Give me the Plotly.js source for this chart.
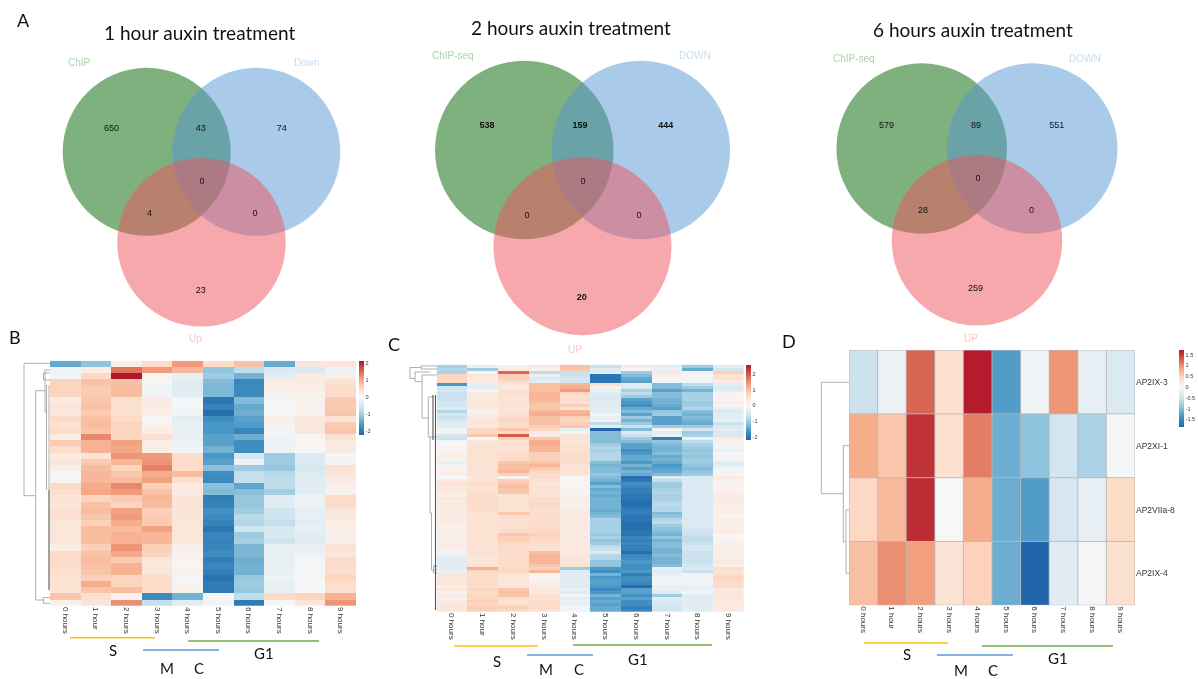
<!DOCTYPE html>
<html>
<head>
<meta charset="utf-8">
<script src="https://cdn.plot.ly/plotly-3.0.1.min.js"></script>
<style>html,body{margin:0;padding:0;background:#fff}#chart{width:1198px;height:679px;filter:blur(0.45px)}</style>
</head>
<body>
<div id="chart"></div>
<script>
// ---------- Venn data ----------
const vennTitles = ["1 hour auxin treatment", "2 hours auxin treatment", "6 hours auxin treatment"];
const vennSetNames = [["ChIP", "Down", "Up"], ["ChIP-seq", "DOWN", "UP"], ["ChIP-seq", "DOWN", "UP"]];
const vennCounts1 = ["650", "43", "74", "0", "4", "0", "23"];
const vennCounts2 = ["538", "159", "444", "0", "0", "0", "20"];
const vennCounts3 = ["579", "89", "551", "0", "28", "0", "259"];

// ---------- Heatmap data ----------
const hourLabels = ["0 hours", "1 hour", "2 hours", "3 hours", "4 hours", "5 hours", "6 hours", "7 hours", "8 hours", "9 hours"];
const geneLabels = ["AP2IX-3", "AP2XI-1", "AP2VIIa-8", "AP2IX-4"];
const heatB = [
[-1.4,-1.1,.2,.5,1.15,.5,.8,-1.4,.3,.35],
[-.15,.2,1.45,1.15,.9,-1.1,-.7,-.4,-.4,-.15],
[-.1,.55,2.15,.1,-.25,-1,-1.3,-.3,.2,.2],
[.6,.8,.8,-.05,-.3,-1.2,-1.8,.2,.25,.4],
[.6,.7,.85,-.1,-.3,-1.25,-1.75,.15,.2,.5],
[.6,.7,.85,-.1,-.3,-1.25,-1.75,.1,.15,.5],
[.25,.75,.45,.25,-.05,-2,-1.2,-.05,.1,.7],
[.35,.8,.45,.2,-.05,-1.85,-1.4,-.05,.15,.7],
[.3,.7,.45,.2,-.1,-2.1,-1.35,0,.1,.75],
[.55,.8,.5,.05,-.3,-1.7,-1.5,.15,.3,.4],
[.4,.85,.6,.1,-.2,-1.6,-1.55,.1,.3,.7],
[.5,.75,.6,.2,-.2,-1.6,-1.8,-.05,.3,.75],
[.2,1.3,.6,.45,-.2,-1.5,-1.35,-.15,.05,.4],
[.7,.95,1.1,.2,-.15,-1.5,-1.7,-.15,.05,.25],
[.5,.95,1.05,.2,-.1,-1.3,-1.7,-.15,.05,.25],
[.25,.4,1.2,1.15,.5,-1.6,-.45,-1,-.4,.05],
[.3,.7,.9,1.2,.5,-1.5,-.15,-1,-.4,-.1],
[.2,.85,.6,1.35,.5,-1.15,-1,-1.05,-.45,.4],
[-.05,.9,.75,1,.85,-1.7,-.65,-.75,-.35,.35],
[-.05,.9,.85,1.1,.45,-1.75,-.65,-.7,-.3,.25],
[.55,1,1.3,.65,.25,-1.15,-1.45,-.7,-.3,.15],
[.45,1.05,1.15,.8,.25,-1.2,-1.15,-.95,-.3,.1],
[.35,.6,.7,.9,.35,-1.9,-1.05,-.3,-.15,.5],
[.35,.8,.6,.85,.35,-1.85,-1.05,-.3,-.15,.5],
[.45,.85,1.1,.65,.35,-1.65,-.95,-.55,-.25,.3],
[.4,.75,1.15,.7,.35,-1.75,-.75,-.55,-.25,.3],
[.3,.65,1,.7,.35,-1.85,-.8,-.65,-.3,.2],
[.35,.85,.85,1.1,.3,-2,-.55,-.45,-.25,.2],
[.3,.85,.95,.9,.35,-1.8,-1,-.4,-.3,.15],
[.35,.85,.95,.9,.3,-1.85,-.9,-.55,-.3,.15],
[.2,.65,1.2,.65,.15,-1.8,-1.25,-.2,-.2,.4],
[.5,.8,1.05,.6,.1,-1.7,-1.25,-.25,-.15,.3],
[.5,.85,.7,.35,.1,-1.9,-1.35,-.2,-.05,.5],
[.5,.8,.95,.3,.05,-1.8,-1.3,-.2,-.05,.5],
[.45,.75,.95,.3,.1,-1.9,-1.3,-.2,-.05,.45],
[.4,.65,.6,.5,-.05,-2.05,-1.05,-.15,.05,.6],
[.4,1,.6,.5,.1,-1.95,-1,-.2,0,.5],
[.4,.75,.85,.5,.1,-1.95,-1.05,-.25,-.05,.45],
[.75,.45,.1,-1.75,-1.3,-.05,-.7,.55,.6,.95],
[.15,.35,1.25,-.65,-.3,-.1,-1.95,-.05,.35,1.2]
];
const heatC = [
[-.9,-.2,.2,.3,1,-.6,.3,-.3,-1,-.3],
[-.8,-1,.3,.2,.9,-.3,.1,-.2,-1.4,-.5],
[-.9,.1,1.9,-.7,-.6,-.3,-1,.4,-.1,.8],
[.7,.4,.8,-.2,-.6,-2,-1.2,.2,.1,.5],
[.7,.3,.8,-.4,-.5,-2,-1.4,-.1,-.1,.5],
[.7,.3,.6,-.3,-.5,-2,-1.5,-.1,-.1,.3],
[-1.6,-.2,.4,1,1.1,.5,-.3,-1.2,-.7,-.3],
[-.5,-.3,.3,1,1.2,-.1,-.4,-1.2,-1,-.4],
[-.5,.1,.5,1,1.4,-.2,-.9,-1.5,-1.3,-.3],
[-.6,.3,.5,1.1,.7,-.3,-.7,-1.2,-.9,.1],
[-.6,.3,.5,1.1,.5,-.4,-1,-1.2,-.9,.1],
[-.6,.3,.4,1.1,.6,-.4,-1.5,-1.3,-.9,.1],
[-.5,.4,.5,1,.5,-.3,-1.6,-1.3,-1,.2],
[-.5,.4,.5,.9,.8,-.3,-1.7,-1.4,-1,.1],
[-.4,.3,.4,.9,.5,-.3,-1.4,-1.5,-.8,-.2],
[-.8,.1,.5,1.1,1.1,-.3,-1.2,-1.1,-1.2,-.4],
[-.5,.2,.5,1.2,1.2,-.1,-1.5,-1,-1.3,-.3],
[-.6,.3,.6,1,.8,-.2,-1,-1.5,-1.2,-.3],
[-.5,.4,.7,1,.7,-.1,-1.3,-1.5,-1.3,-.2],
[-.3,.4,.6,1,.8,-.7,-1,-1.5,-1.4,-.6],
[-.3,.3,.6,.8,.9,-.3,-.6,-1,-1,-.4],
[-.1,.7,.9,.7,-.2,-2.2,-1.2,.1,-.5,-.3],
[.1,.7,.7,.3,-.1,-1.2,-.4,-.3,-1,-.4],
[-.5,.9,2,.2,.5,-1.2,-.6,-.2,-.9,-.4],
[-.6,0,.8,.9,.5,-1.2,-1,-1.9,-.2,.3],
[-.1,.4,.5,1.2,.4,-1.2,-1.2,-1.1,-.7,.2],
[0,.5,.5,1.2,.5,-1,-1.5,-1.2,-.9,-.1],
[.1,.5,.5,1.1,.5,-.8,-1.5,-1.3,-1,-.1],
[.1,.5,.5,1.1,.5,-.9,-1.7,-1.3,-1.1,-.2],
[.2,.5,.6,.8,.6,-.8,-1.6,-1.2,-1,0],
[.2,.5,.6,.8,.6,-.8,-1.4,-1.4,-1.1,.1],
[.1,.5,.6,.8,.6,-.8,-1.4,-1.3,-1,-.1],
[-.2,.5,.9,.9,.6,-1.2,-1.6,-1.4,-1,-.3],
[-.1,.5,1,1.1,.5,-1.3,-1.3,-1.6,-1.1,-.3],
[.1,.5,1,.9,.5,-1.2,-1.5,-1.5,-1.2,-.1],
[.2,.5,1.1,.7,.5,-1.2,-1.3,-1.4,-1.1,-.1],
[.2,.5,.8,.6,.4,-1.1,-1.4,-1.2,-1,.1],
[0,.4,.1,.6,.05,-1.2,-2.1,-.4,-.4,.3],
[.3,.5,.8,.5,.05,-1.3,-2,-.7,-.4,.2],
[.5,.6,.9,.4,.05,-1.5,-1.7,-1,-.4,.05],
[.4,.5,1,.5,.1,-1.2,-1.8,-1,-.4,.1],
[.4,.5,.9,.5,.1,-1.4,-1.9,-.9,-.4,.1],
[.3,.5,.9,.5,.1,-1.3,-1.9,-.8,-.4,.2],
[.2,.6,.5,.5,.15,-1.4,-2,-.9,-.4,.3],
[.4,.6,.5,.6,.2,-1.3,-2,-.9,-.4,.3],
[.3,.6,.5,.6,.2,-1.3,-2.1,-.8,-.4,.3],
[.3,.6,.5,.7,.2,-1.3,-2.1,-.7,-.4,.2],
[.3,.6,.5,.6,.2,-1.3,-2,-.8,-.4,.2],
[.3,.6,.5,.6,.3,-1.4,-1.9,-.8,-.4,.2],
[.3,.5,.9,.6,.3,-1.3,-1.9,-1.2,-.4,.2],
[.3,.5,.6,.6,.3,-1.2,-2,-1.1,-.4,.1],
[.3,.5,.5,.6,.3,-.9,-2,-.8,-.4,.2],
[.3,.5,.5,.6,.3,-.9,-2.1,-.7,-.4,.2],
[.2,.5,.5,.6,.3,-.9,-2.1,-1,-.4,.2],
[.2,.5,.6,.7,.3,-.9,-2.1,-1.1,-.5,.2],
[.2,.5,.6,.7,.3,-.9,-2,-1.2,-.5,.3],
[.2,.5,.9,.8,.3,-1,-2,-1.3,-.6,.05],
[.2,.5,.8,.7,.3,-.9,-1.8,-1.1,-.7,.05],
[.2,.5,.8,.7,.3,-1.1,-1.9,-1.3,-.7,.05],
[.2,.5,.7,.6,.3,-1,-1.8,-1.2,-.6,.2],
[.3,.5,.6,.5,.3,-.7,-1.9,-1.2,-.5,.2],
[.2,.5,.6,.5,.3,-.6,-1.9,-1.3,-.5,.2],
[-.1,.5,.6,1,.3,-.4,-2.1,-1.3,-.6,.2],
[-.2,.5,.6,1.1,.4,-.8,-1.8,-1.2,-.6,.2],
[-.3,.4,.6,1.1,.4,-.8,-1.7,-1.3,-.6,.2],
[-.3,.4,.6,1.1,.4,-1.1,-1.6,-1.3,-.6,.3],
[-.3,.5,.6,.9,.5,-1.1,-1.7,-1.2,-.5,.2],
[-.3,1.2,.7,.8,-1,-1.6,-1.7,-.2,-.4,.6],
[-.2,.7,.7,1.1,-.4,-1.7,-1.6,-.3,-.6,.5],
[.4,.6,.4,.1,-.3,-1.3,-1.9,-.2,-.1,.6],
[.4,.6,.4,.05,-.3,-1.6,-1.7,-.1,-.1,.7],
[.4,.6,.4,.05,-.3,-1.5,-1.7,-.1,-.1,.7],
[.4,.6,.4,.2,-.3,-1.5,-1.8,-.1,-.1,.6],
[.2,.6,.4,.3,-.3,-1.6,-2.1,-.2,-.2,.6],
[.4,.7,.9,.4,-.2,-1.8,-1.5,-.2,-.2,.3],
[.1,.6,1,.3,-.3,-1.6,-1.5,-.3,-.1,.4],
[.3,.7,.9,.5,-.1,-1.3,-1.7,-1,-.3,.4],
[-.1,.7,.6,.5,-.3,-1.5,-1.5,-.3,-.3,.4],
[.3,.8,.5,.6,-.2,-1.4,-1.7,-.4,-.3,.3],
[.4,.7,.6,.6,-.2,-1.5,-1.7,-.5,-.3,.3],
[.4,.8,.8,.6,-.1,-1.4,-1.9,-.5,-.3,.3],
[.4,.8,.7,.5,-.1,-1.4,-1.8,-.5,-.3,.3]
];
const heatD = [
[-.5,-.15,1.25,.35,1.7,-1.3,-.07,.95,-.2,-.35],
[.8,.6,1.55,.35,1.1,-1.15,-.95,-.45,-.75,-.03],
[.45,.7,1.6,0,.8,-1.15,-1.3,-.4,-.2,.42],
[.65,1,.9,.3,.5,-1.15,-1.85,-.25,-.05,.35]
];

// ---------- helpers ----------
const W = 1198, H = 679;
const blues = ["#2166AC", "#4393C3", "#92C5DE", "#D1E5F0", "#F7F7F7"];
const reds = ["#F7F7F7", "#FDDBC7", "#F4A582", "#D6604D", "#B2182B"];
function divergingScale(zmin, zmax) {
  const mid = -zmin / (zmax - zmin);
  const s = blues.map((c, i) => [mid * i / 4, c]);
  reds.slice(1).forEach((c, i) => s.push([mid + (1 - mid) * (i + 1) / 4, c]));
  return s;
}
const domX = (a, b) => [a / W, b / W];
const domY = (top, bottom) => [1 - bottom / H, 1 - top / H];
const idx = n => Array.from({length: n}, (_, i) => i);
function polylines(list) {
  const x = [], y = [];
  list.forEach(p => { for (let i = 0; i < p.length; i += 2) { x.push(p[i]); y.push(p[i + 1]); } x.push(null); y.push(null); });
  return {x, y};
}

// ---------- layout geometry ----------
const vennCx = [146.7, 256.3, 201.5, 524.3, 640.8, 582.5, 921.7, 1032.2, 977];
const vennCy = [151.8, 151.8, 242.3, 150, 150, 246.3, 148.5, 148.5, 240.3];
const vennD = [168, 168, 168.5, 178.5, 178.5, 178, 170.5, 170.5, 170.5];
const vennFill = ["rgb(0,100,0)", "rgb(83,149,209)", "rgb(239,81,91)"];
const countX = [111.5, 200.7, 281.7, 202, 149.5, 255, 200.7, 487, 580, 665.7, 583, 527, 639, 581.7, 886.5, 976, 1056.7, 978, 923, 1031.5, 975.5];
const countY = [129, 129, 129, 182, 213.5, 213.5, 291, 126, 126, 126, 182, 216, 216, 298, 125.7, 125.7, 125.7, 179, 211, 211, 289];
const titleX = [199, 570.7, 973], titleY = [32, 27, 29.5];
const setX = [79.5, 307, 195, 452.7, 695, 575.3, 853.5, 1084.5, 970.7];
const setY = [62, 62, 338, 55, 55, 349.3, 58, 58, 338];
const setColors = ["#abd0ab", "#c5dcf0", "#fbc6ca"];
const panelLetters = ["A", "B", "C", "D"], panelX = [23, 15, 394, 789], panelY = [20, 337, 344, 341];
const phaseLabels = ["S", "M", "C", "G1"];
const phaseX = [[113, 167, 199, 264], [497, 546, 579, 638], [907, 961, 993, 1058]];
const phaseY = [[650, 668, 668, 653], [661, 669, 669, 659], [654, 669.5, 669.5, 658]];
const phaseBars = [
  {name: "S", color: "#FFC000", seg: [[70,637.7,155,637.7],[454,646,538,646],[864,643,948,643]]},
  {name: "M C", color: "#5B9BD5", seg: [[143,650,219,650],[527,655,593,655],[937,655,1013,655]]},
  {name: "G1", color: "#70AD47", seg: [[188,641,319,641],[573,645,712,645],[982,646,1113,646]]}
];
const dendroLight = [
  [50,363.3,24,363.3,24,495.7,35.7,495.7],
  [45,390.7,35.7,390.7,35.7,600,43.3,600],
  [50,597.5,43.3,597.5,43.3,603.3,50,603.3],
  [50,370,45,370,45,412,47,412],
  [50,373,43.5,373,43.5,380,50,380],
  [46.5,385,46.5,490],
  [49,385,49,490],
  [421,367.5,410,367.5,410,378.5,415,378.5],
  [430,372,415,372,415,381.7,422,381.7],
  [437,375,422,375,422,418,428.3,418],
  [437,366,421,366,421,369,437,369],
  [434,397,428.3,397,428.3,437,430,437],
  [437,437,430,437,430,513,431.5,513],
  [431.5,513,431.5,570,437,570],
  [433.5,566,437,566,433.5,566,433.5,573,437,573],
  [849,382.3,821.3,382.3,821.3,493.7,843.3,493.7],
  [849,445.7,843.3,445.7,843.3,541.7,846,541.7],
  [849,510,846,510,846,573.3,849,573.3]
];
const dendroDark = [
  [49,490,49,590],
  [435.5,395,435.5,610],
  [433,395,433,440]
];

// ---------- traces ----------
const traces = [];
// Venn circles
traces.push({type: "scatter", mode: "markers", x: vennCx, y: vennCy, xaxis: "x", yaxis: "y", hoverinfo: "skip", showlegend: false, cliponaxis: false,
  marker: {size: vennD, opacity: 0.5, color: vennCx.map((_, i) => vennFill[i % 3]), line: {width: 0}}});
// Venn counts
const allCounts = vennCounts1.concat(vennCounts2, vennCounts3);
traces.push({type: "scatter", mode: "text", x: countX, y: countY, text: allCounts, xaxis: "x", yaxis: "y", hoverinfo: "skip", showlegend: false,
  textposition: "middle center", textfont: {family: "Liberation Sans", size: 9, color: "#111",
    weight: allCounts.map((_, i) => (i >= 7 && i < 14 && i !== 10 && i !== 11 && i !== 12) ? 700 : 400)}});
// phase bars
phaseBars.forEach(b => {
  const p = polylines(b.seg);
  traces.push({type: "scatter", mode: "lines", name: b.name, x: p.x, y: p.y, xaxis: "x", yaxis: "y", hoverinfo: "skip", showlegend: false, line: {color: b.color, width: 1.4}});
});
// dendrograms
[[dendroLight, "#a6a6a6", 0.9], [dendroDark, "#555555", 1.1]].forEach(([d, c, w]) => {
  const p = polylines(d);
  traces.push({type: "scatter", mode: "lines", x: p.x, y: p.y, xaxis: "x", yaxis: "y", hoverinfo: "skip", showlegend: false, line: {color: c, width: w}});
});
// heatmaps
function heat(z, ax, zmin, zmax, cb) {
  return {type: "heatmap", z: z, x: idx(10), y: idx(z.length), xaxis: "x" + ax, yaxis: "y" + ax, zmin, zmax, zsmooth: false,
    colorscale: divergingScale(zmin, zmax), hoverinfo: "skip",
    colorbar: Object.assign({xref: "paper", yref: "paper", xanchor: "left", yanchor: "top", thicknessmode: "pixels", lenmode: "fraction", outlinewidth: 0, borderwidth: 0,
      xpad: 0, ypad: 0, ticks: "", tickfont: {family: "Liberation Sans", size: 5.5, color: "#333"}, tickmode: "array", ticklabelposition: "outside"}, cb)};
}
traces.push(heat(heatB, 2, -2.19, 2.15, {x: 358.7 / W, y: 1 - 360.7 / H, len: 74.3 / H, thickness: 5, tickvals: [-2,-1,0,1,2], ticktext: ["-2","-1","0","1","2"]}));
traces.push(heat(heatC, 3, -2.2, 2.62, {x: 746 / W, y: 1 - 364.7 / H, len: 74.7 / H, thickness: 5, tickvals: [-2,-1,0,1,2], ticktext: ["-2","-1","0","1","2"]}));
traces.push(heat(heatD, 4, -1.85, 1.72, {x: 1179 / W, y: 1 - 350 / H, len: 77.3 / H, thickness: 5.3, tickvals: [-1.5,-1,-.5,0,.5,1,1.5], ticktext: ["-1.5","-1","-0.5","0","0.5","1","1.5"]}));

// ---------- annotations ----------
const ann = [];
const addText = (t, x, y, size, color, family) => ann.push({text: t, x, y, xref: "x", yref: "y", showarrow: false, xanchor: "center", yanchor: "middle", borderpad: 0,
  font: {size, color, family: family || "Lato"}});
vennTitles.forEach((t, i) => addText(t, titleX[i], titleY[i], 19, "#111"));
vennSetNames.forEach((names, i) => names.forEach((n, j) => addText(n, setX[i * 3 + j], setY[i * 3 + j], 10, setColors[j], "Liberation Sans")));
panelLetters.forEach((t, i) => addText(t, panelX[i], panelY[i], 18, "#111"));
phaseX.forEach((xs, i) => xs.forEach((x, j) => addText(phaseLabels[j], x, phaseY[i][j], 15, "#111")));

// ---------- D grid lines ----------
const shapes = [];
idx(11).forEach(i => shapes.push({type: "line", xref: "x4", yref: "y4", x0: i - .5, x1: i - .5, y0: -.5, y1: 3.5, line: {color: "#b9b9b9", width: 0.9}}));
idx(5).forEach(i => shapes.push({type: "line", xref: "x4", yref: "y4", x0: -.5, x1: 9.5, y0: i - .5, y1: i - .5, line: {color: "#b9b9b9", width: 0.9}}));

// ---------- axes ----------
const hourAxis = (a, b) => ({domain: domX(a, b), range: [-.5, 9.5], tickmode: "array", tickvals: idx(10), ticktext: hourLabels, tickangle: 90,
  ticks: "", ticklen: 0, showgrid: false, zeroline: false, showline: false, fixedrange: true, tickfont: {family: "Liberation Sans", size: 8, color: "#333"}});
const rowAxis = (top, bottom, n) => ({domain: domY(top, bottom), range: [n - .5, -.5], showticklabels: false, ticks: "", showgrid: false, zeroline: false, showline: false, fixedrange: true});

const layout = {
  width: W, height: H, margin: {l: 0, r: 0, t: 0, b: 0, pad: 0}, showlegend: false,
  paper_bgcolor: "#ffffff", plot_bgcolor: "rgba(0,0,0,0)",
  font: {family: "Liberation Sans"},
  xaxis: {domain: [0, 1], range: [0, W], visible: false, fixedrange: true},
  yaxis: {domain: [0, 1], range: [H, 0], visible: false, fixedrange: true},
  xaxis2: Object.assign(hourAxis(50, 356), {anchor: "y2"}),
  yaxis2: Object.assign(rowAxis(360.7, 606, heatB.length), {anchor: "x2"}),
  xaxis3: Object.assign(hourAxis(436.7, 744), {anchor: "y3"}),
  yaxis3: Object.assign(rowAxis(364.7, 612, heatC.length), {anchor: "x3"}),
  xaxis4: Object.assign(hourAxis(849, 1135), {anchor: "y4"}),
  yaxis4: Object.assign(rowAxis(350, 605.3, heatD.length), {anchor: "x4", side: "right", showticklabels: true, tickmode: "array", tickvals: idx(4), ticktext: geneLabels,
    tickfont: {family: "Liberation Sans", size: 8.5, color: "#333"}}),
  annotations: ann, shapes: shapes
};
Plotly.newPlot("chart", traces, layout, {displayModeBar: false, staticPlot: true});
</script>
</body>
</html>
